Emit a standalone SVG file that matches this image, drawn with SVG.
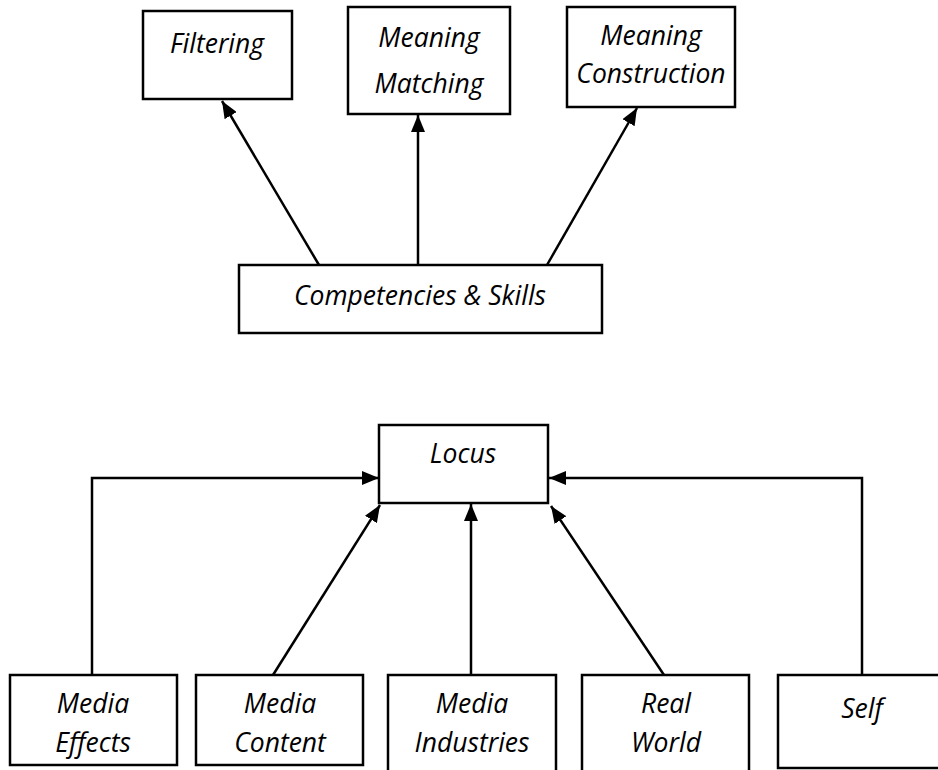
<svg xmlns="http://www.w3.org/2000/svg" width="938" height="770" viewBox="0 0 938 770">
<style>
.box{fill:#fff;stroke:#000;stroke-width:2.5}
.t{font-family:"Open Sans","Liberation Sans",sans-serif;font-style:italic;font-size:26.5px;fill:#000;text-anchor:middle}
.c{stroke:#000;stroke-width:2.5;fill:none}
</style>
<defs>
<marker id="ah" markerUnits="userSpaceOnUse" markerWidth="17" markerHeight="14" refX="17" refY="7" orient="auto">
<path d="M0,0 L17,7 L0,14 Z" fill="#000"/>
</marker>
</defs>
<rect width="938" height="770" fill="#fff"/>
<g id="connectors">
<line class="c" x1="319" y1="265" x2="222" y2="101" marker-end="url(#ah)"/>
<line class="c" x1="418" y1="265" x2="418" y2="115" marker-end="url(#ah)"/>
<line class="c" x1="547" y1="265" x2="637" y2="108" marker-end="url(#ah)"/>
<polyline class="c" points="92,675 92,478 379,478" marker-end="url(#ah)"/>
<polyline class="c" points="862,675 862,478 549,478" marker-end="url(#ah)"/>
<line class="c" x1="273" y1="675" x2="380" y2="505" marker-end="url(#ah)"/>
<line class="c" x1="471" y1="675" x2="471" y2="504" marker-end="url(#ah)"/>
<line class="c" x1="664" y1="675" x2="551" y2="506" marker-end="url(#ah)"/>
</g>
<g id="filtering"><rect class="box" x="143" y="11" width="149" height="88"/><text class="t" x="217" y="53">Filtering</text></g>
<g id="meaning-matching"><rect class="box" x="348" y="7" width="162" height="107"/><text class="t" x="429" y="47">Meaning</text><text class="t" x="429" y="93">Matching</text></g>
<g id="meaning-construction"><rect class="box" x="567" y="7" width="168" height="100"/><text class="t" x="651" y="45">Meaning</text><text class="t" x="651" y="83">Construction</text></g>
<g id="competencies"><rect class="box" x="239" y="265" width="363" height="68"/><text class="t" x="420" y="305">Competencies &amp; Skills</text></g>
<g id="locus"><rect class="box" x="379" y="425" width="169" height="78"/><text class="t" x="463" y="463">Locus</text></g>
<g id="media-effects"><rect class="box" x="10" y="675" width="167" height="90"/><text class="t" x="93" y="713">Media</text><text class="t" x="93" y="752">Effects</text></g>
<g id="media-content"><rect class="box" x="196" y="675" width="167" height="90"/><text class="t" x="280" y="713">Media</text><text class="t" x="280" y="752">Content</text></g>
<g id="media-industries"><rect class="box" x="388" y="675" width="168" height="100"/><text class="t" x="472" y="713">Media</text><text class="t" x="472" y="752">Industries</text></g>
<g id="real-world"><rect class="box" x="582" y="675" width="167" height="100"/><text class="t" x="666" y="713">Real</text><text class="t" x="666" y="752">World</text></g>
<g id="self"><rect class="box" x="778" y="675" width="170" height="93"/><text class="t" x="862" y="718">Self</text></g>
</svg>
